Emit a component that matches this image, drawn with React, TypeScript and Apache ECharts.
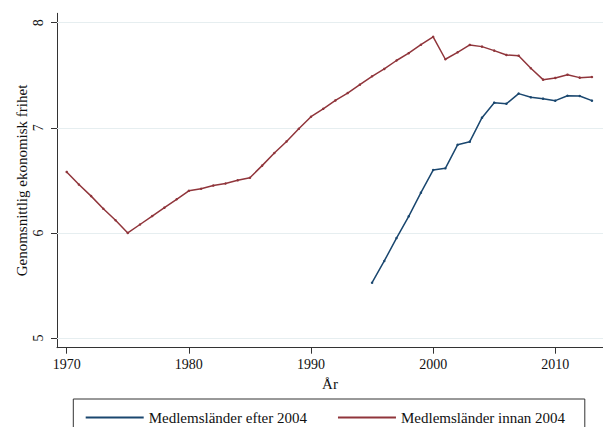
import React, { useEffect, useRef } from "react";
import * as echarts from "echarts";

const redYears: number[] = [
  1970, 1971, 1972, 1973, 1974, 1975, 1976, 1977, 1978, 1979, 1980, 1981, 1982, 1983, 1984,
  1985, 1986, 1987, 1988, 1989, 1990, 1991, 1992, 1993, 1994, 1995, 1996, 1997, 1998, 1999,
  2000, 2001, 2002, 2003, 2004, 2005, 2006, 2007, 2008, 2009, 2010, 2011, 2012, 2013,
];
const redValues: number[] = [
  6.58, 6.46, 6.35, 6.23, 6.12, 6.0, 6.08, 6.16, 6.24, 6.32, 6.4, 6.42, 6.45, 6.47, 6.5,
  6.525, 6.64, 6.76, 6.87, 6.99, 7.105, 7.18, 7.26, 7.33, 7.41, 7.49, 7.56, 7.64, 7.71, 7.79,
  7.865, 7.652, 7.718, 7.788, 7.772, 7.734, 7.693, 7.686, 7.566, 7.458, 7.474, 7.505, 7.477, 7.483,
];
const blueYears: number[] = [
  1995, 1996, 1997, 1998, 1999, 2000, 2001, 2002, 2003, 2004, 2005, 2006, 2007, 2008, 2009,
  2010, 2011, 2012, 2013,
];
const blueValues: number[] = [
  5.526, 5.733, 5.951, 6.158, 6.383, 6.598, 6.614, 6.838, 6.868, 7.096, 7.239, 7.229, 7.325,
  7.29, 7.277, 7.258, 7.305, 7.302, 7.258,
];
const xTicks: number[] = [1970, 1980, 1990, 2000, 2010];
const yTicks: number[] = [5, 6, 7, 8];
const seriesNames: string[] = ["Medlemsländer efter 2004", "Medlemsländer innan 2004"];

const FONT = "Liberation Serif";

export default function App() {
  const ref = useRef<HTMLDivElement>(null);
  useEffect(() => {
    if (!ref.current) return;
    const chart = echarts.init(ref.current, null, { renderer: "svg" });
    const blueData = blueYears.map((y, i) => [y, blueValues[i]]);
    const redData = redYears.map((y, i) => [y, redValues[i]]);
    chart.setOption({
      animation: false,
      backgroundColor: "#ffffff",
      textStyle: { fontFamily: FONT },
      grid: { left: 57, top: 13.3, width: 546, height: 334.4, containLabel: false },
      xAxis: {
        type: "value",
        min: 1969.206,
        max: 2013.906,
        name: "År",
        nameLocation: "middle",
        nameGap: 23,
        nameTextStyle: { fontFamily: FONT, fontSize: 15, color: "#111" },
        axisLine: { show: true, lineStyle: { color: "#333", width: 1 } },
        axisTick: { show: true, length: 6, customValues: xTicks, lineStyle: { color: "#333" } },
        axisLabel: {
          customValues: xTicks,
          fontFamily: FONT,
          fontSize: 14,
          color: "#111",
          margin: 10,
          formatter: (v: number) => String(v),
        },
        splitLine: { show: false },
      },
      yAxis: {
        type: "value",
        min: 4.908,
        max: 8.089,
        name: "Genomsnittlig ekonomisk frihet",
        nameLocation: "middle",
        nameRotate: 90,
        nameGap: 28,
        nameMoveOverlap: false,
        nameTextStyle: { fontFamily: FONT, fontSize: 15, color: "#111" },
        axisLine: { show: true, lineStyle: { color: "#333", width: 1 } },
        axisTick: { show: true, length: 6, customValues: yTicks, lineStyle: { color: "#333" } },
        axisLabel: {
          customValues: yTicks,
          rotate: 90,
          fontFamily: FONT,
          fontSize: 14,
          color: "#111",
          margin: 12,
          formatter: (v: number) => String(v),
        },
        splitLine: { show: false },
      },
      legend: {
        left: 80.7,
        top: 405,
        icon: "rect",
        itemWidth: 58,
        itemHeight: 2,
        itemGap: 31,
        itemStyle: { borderWidth: 0 },
        textStyle: { fontFamily: FONT, fontSize: 15, color: "#111", padding: [0, 0, 0, 0] },
        data: seriesNames,
      },
      graphic: [
        {
          type: "rect",
          shape: { x: 73.3, y: 399, width: 511.5, height: 40 },
          style: { fill: "none", stroke: "#333", lineWidth: 1 },
          silent: true,
          z: 0,
        },
      ],
      series: [
        {
          name: seriesNames[0],
          type: "line",
          data: blueData,
          color: "#1a476f",
          lineStyle: { width: 1.5, color: "#1a476f" },
          symbol: "circle",
          symbolSize: 2.5,
          showSymbol: true,
          itemStyle: { color: "#1a476f" },
          z: 3,
          markLine: {
            silent: true,
            symbol: ["none", "none"],
            label: { show: false },
            lineStyle: { color: "#e6eef0", width: 1, type: "solid" },
            data: yTicks.map((t) => ({ yAxis: t })),
            z: 1,
          },
        },
        {
          name: seriesNames[1],
          type: "line",
          data: redData,
          color: "#90353b",
          lineStyle: { width: 1.5, color: "#90353b" },
          symbol: "circle",
          symbolSize: 2.5,
          showSymbol: true,
          itemStyle: { color: "#90353b" },
          z: 3,
        },
      ],
    });
    return () => chart.dispose();
  }, []);
  return (
    <div
      ref={ref}
      style={{ position: "fixed", left: 0, top: 0, width: 603, height: 427, background: "#fff" }}
    />
  );
}
